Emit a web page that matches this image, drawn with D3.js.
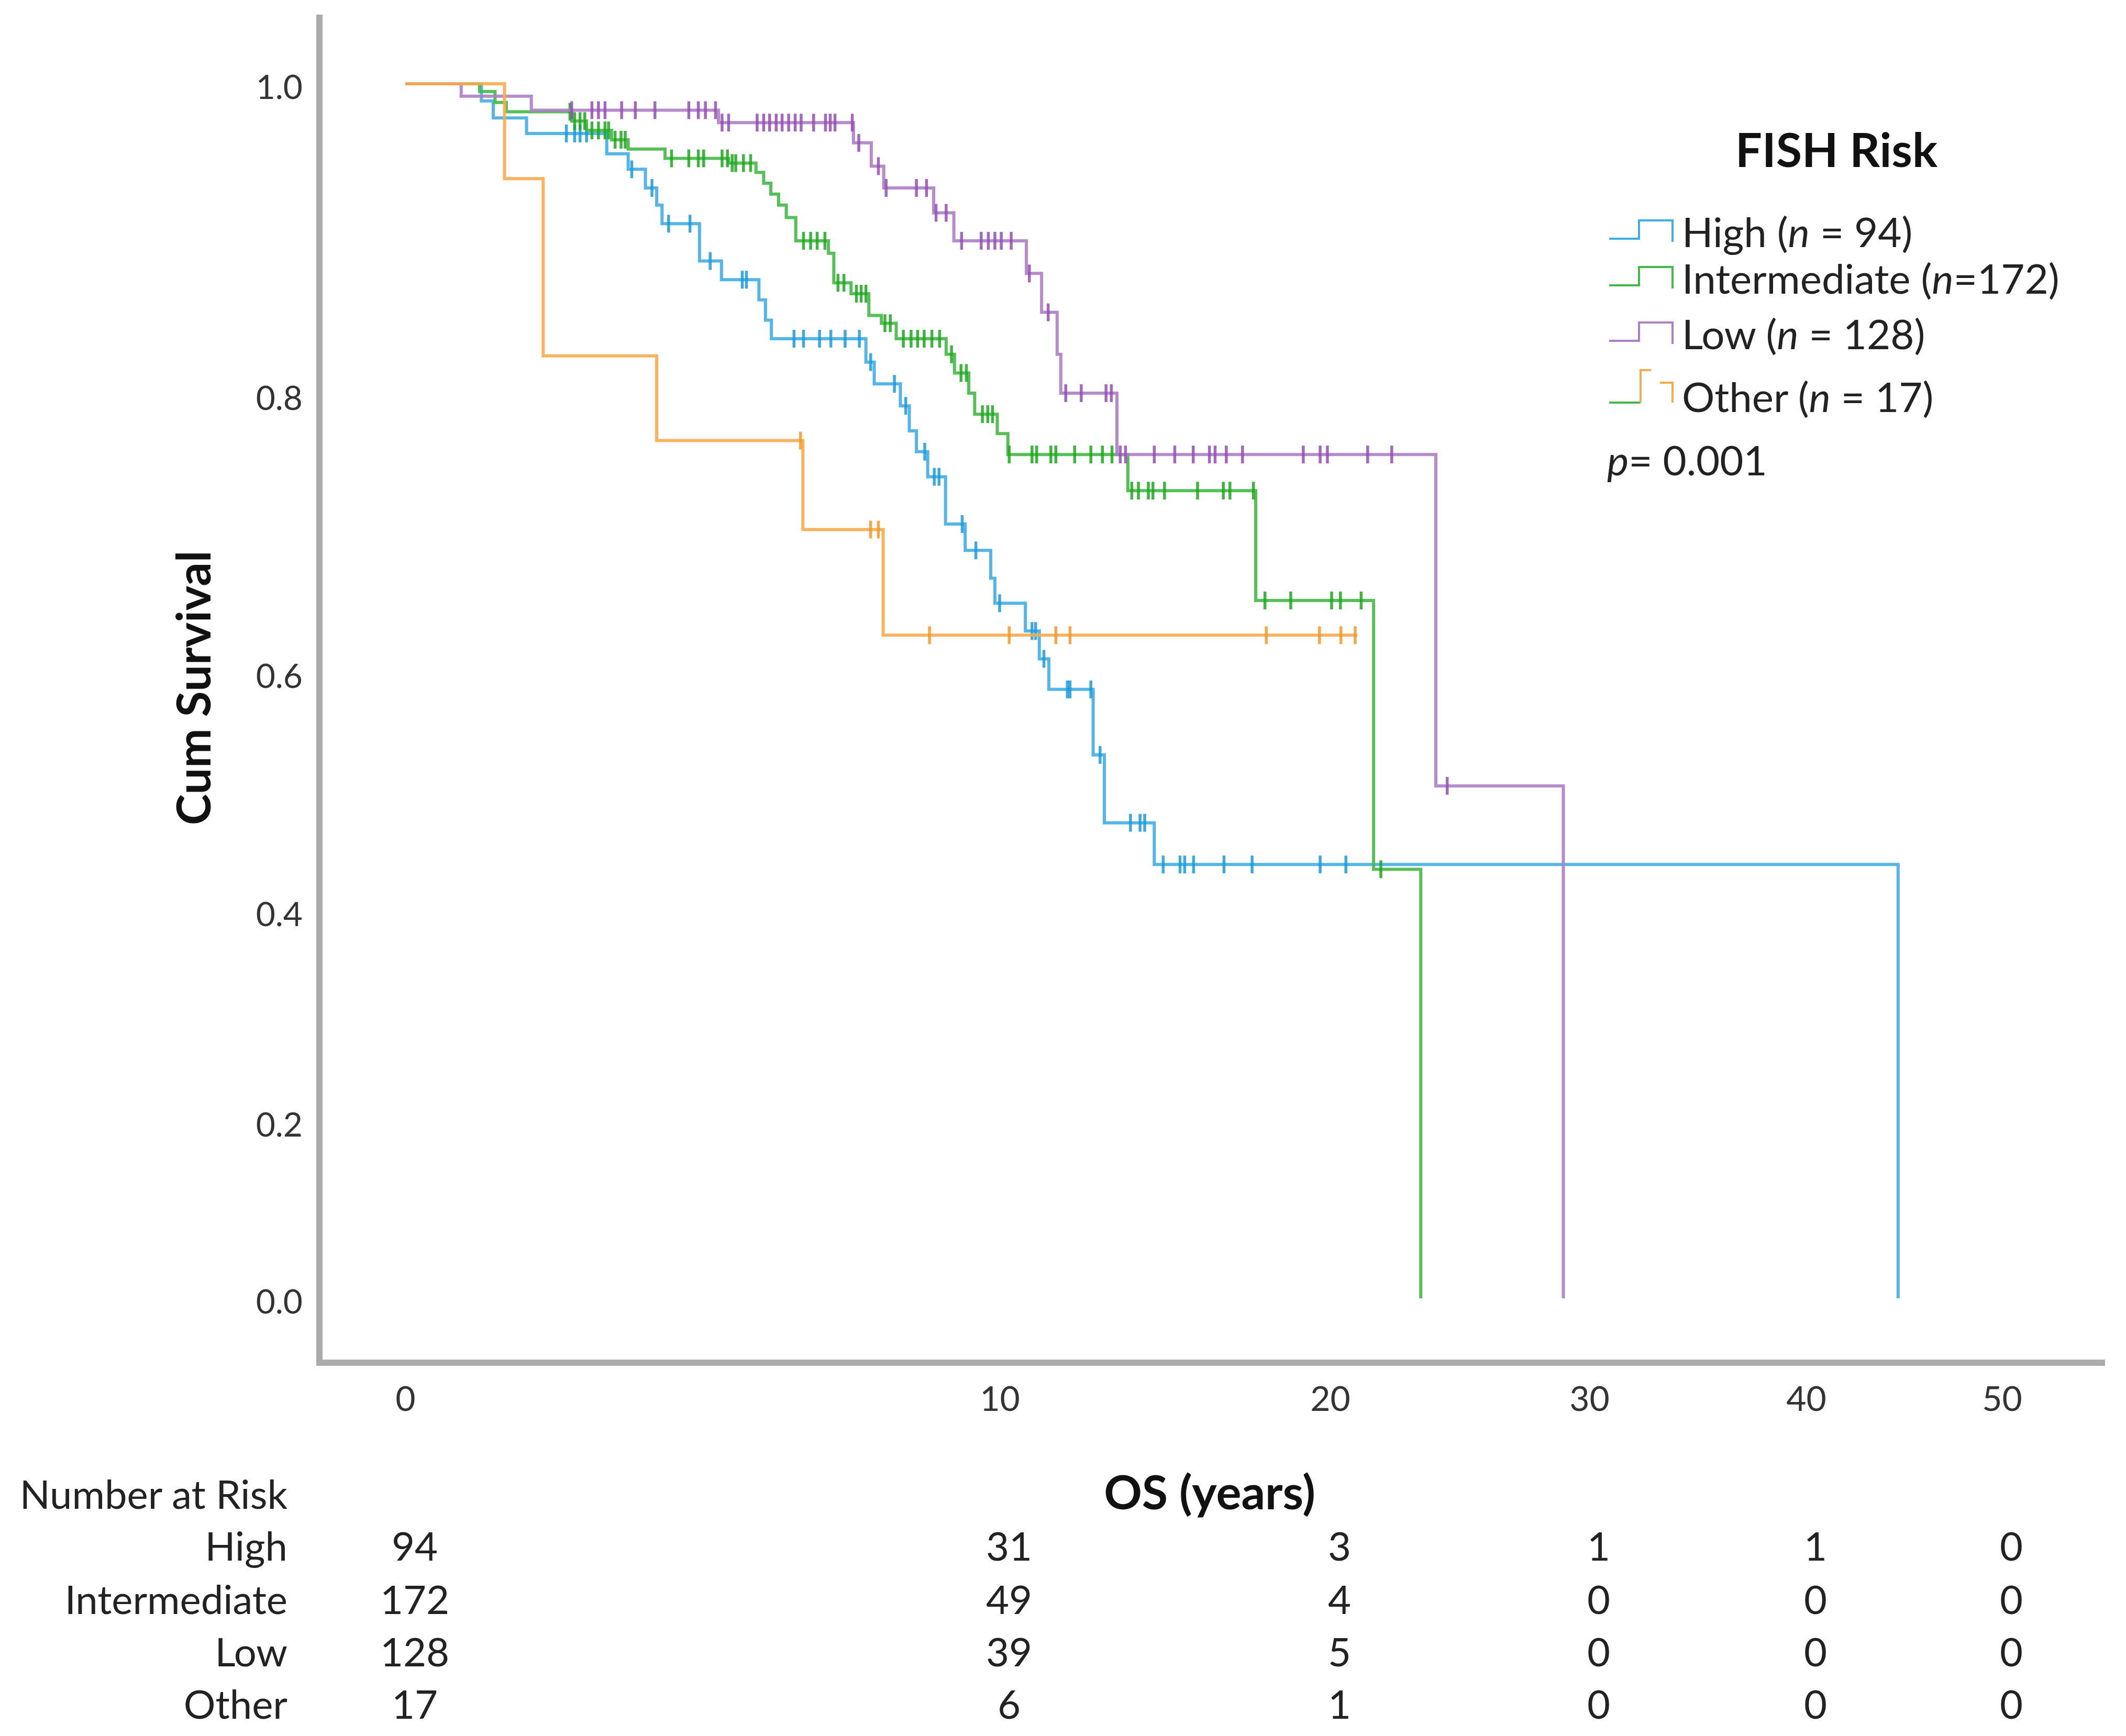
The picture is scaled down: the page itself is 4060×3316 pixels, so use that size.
<!DOCTYPE html>
<html>
<head>
<meta charset="utf-8">
<script src="https://cdn.jsdelivr.net/npm/d3@7"></script>
<style>
  body { margin: 0; background: #fff; }
  text { font-family: Lato, "Open Sans", sans-serif; }
</style>
</head>
<body>
<div id="chart"></div>
<script>
// ---- data ----
const groups = ["High", "Intermediate", "Low", "Other"];
const groupN = [94, 172, 128, 17];

// [time (years), survival after the step]
const highSteps = [[0, 1], [1.28, 0.989], [1.48, 0.978], [2.04, 0.968], [3.39, 0.955], [3.75, 0.945],
  [4.04, 0.933], [4.23, 0.922], [4.32, 0.910], [4.95, 0.886], [5.32, 0.874], [5.95, 0.861], [6.06, 0.848],
  [6.16, 0.836], [7.75, 0.821], [7.89, 0.807], [8.33, 0.792], [8.48, 0.774], [8.60, 0.759], [8.79, 0.741],
  [9.09, 0.707], [9.42, 0.688], [9.85, 0.668], [9.92, 0.650], [10.78, 0.630], [11.20, 0.610], [11.49, 0.586],
  [12.83, 0.531], [13.17, 0.474], [14.68, 0.439], [44.7, 0]];
const highCensored = [2.71, 2.85, 2.94, 3.05, 3.81, 4.15, 4.43, 4.79, 5.13, 5.67, 5.74, 6.54, 6.70, 6.97,
  7.16, 7.40, 7.64, 7.83, 8.23, 8.42, 8.74, 8.90, 8.98, 9.37, 9.60, 10.0, 10.98, 11.09, 11.34, 12.05, 12.13,
  12.76, 13.04, 13.96, 14.25, 14.39, 14.95, 15.46, 15.60, 15.87, 16.79, 17.64, 19.70, 20.61];

const intermediateSteps = [[0, 1], [1.25, 0.995], [1.51, 0.988], [1.70, 0.982], [2.80, 0.976], [3.05, 0.970],
  [3.47, 0.964], [3.75, 0.958], [4.37, 0.952], [5.44, 0.949], [5.90, 0.943], [6.03, 0.936], [6.15, 0.929],
  [6.28, 0.922], [6.41, 0.914], [6.57, 0.899], [7.12, 0.891], [7.21, 0.872], [7.50, 0.865], [7.80, 0.851],
  [8.01, 0.846], [8.26, 0.836], [9.10, 0.826], [9.24, 0.814], [9.48, 0.801], [9.58, 0.786], [9.96, 0.772],
  [10.25, 0.757], [13.88, 0.731], [17.75, 0.652], [21.68, 0.435], [23.5, 0]];
const intermediateCensored = [2.77, 2.85, 2.94, 3.02, 3.14, 3.25, 3.36, 3.42, 3.53, 3.63, 3.70, 4.48, 4.77,
  4.93, 5.02, 5.33, 5.42, 5.50, 5.56, 5.69, 5.81, 6.70, 6.82, 6.93, 7.06, 7.28, 7.38, 7.59, 7.67, 7.75, 8.07,
  8.16, 8.38, 8.51, 8.62, 8.73, 8.86, 8.99, 9.19, 9.35, 9.44, 9.71, 9.80, 9.88, 10.29, 10.98, 11.12, 11.55,
  11.70, 12.27, 12.76, 13.11, 13.40, 14.0, 14.2, 14.5, 14.64, 14.99, 15.99, 16.77, 16.97, 17.68, 18.03,
  18.81, 20.06, 20.4, 21.2, 21.96];

const lowSteps = [[0, 1], [0.94, 0.992], [2.12, 0.983], [5.27, 0.975], [7.54, 0.962], [7.84, 0.947],
  [8.05, 0.933], [8.89, 0.917], [9.23, 0.899], [10.81, 0.878], [11.27, 0.853], [11.74, 0.826], [11.85, 0.801],
  [13.55, 0.757], [24.08, 0.505], [29.0, 0]];
const lowCensored = [2.80, 3.14, 3.25, 3.36, 3.64, 3.87, 4.20, 4.77, 4.93, 5.05, 5.22, 5.33, 5.44, 5.92,
  6.03, 6.13, 6.24, 6.34, 6.45, 6.56, 6.66, 6.87, 7.07, 7.15, 7.23, 7.52, 7.63, 7.96, 8.09, 8.60, 8.77, 8.93,
  9.10, 9.36, 9.69, 9.81, 9.92, 10.05, 10.35, 10.9, 11.47, 12.0, 12.47, 13.22, 13.38, 13.65, 13.81, 14.68,
  15.3, 15.86, 16.35, 16.52, 16.86, 17.35, 19.19, 19.70, 19.92, 21.45, 22.38, 24.52];

const otherSteps = [[0, 1], [1.67, 0.939], [2.32, 0.825], [4.23, 0.767], [6.69, 0.703], [8.04, 0.627],
  [21.05, 0.627]];
const otherCensored = [6.65, 7.83, 7.96, 8.82, 10.29, 11.70, 12.13, 18.07, 19.68, 20.42, 20.97];

const xTicks = [0, 10, 20, 30, 40, 50];
const yTicks = [0, 0.2, 0.4, 0.6, 0.8, 1.0];

const riskTimes = [0, 10, 20, 30, 40, 50];
const riskHigh = [94, 31, 3, 1, 1, 0];
const riskIntermediate = [172, 49, 4, 0, 0, 0];
const riskLow = [128, 39, 5, 0, 0, 0];
const riskOther = [17, 6, 1, 0, 0, 0];

const pValue = "0.001";

// ---- drawing ----
const width = 4060, height = 3316;

const lineColors = ["#41ade3", "#45b845", "#ad7ec6", "#f6ab4e"];
const markColors = ["#1c9bd9", "#1fa81f", "#9550b4", "#f39a2a"];

const series = [
  { steps: highSteps, censored: highCensored, risk: riskHigh },
  { steps: intermediateSteps, censored: intermediateCensored, risk: riskIntermediate },
  { steps: lowSteps, censored: lowCensored, risk: riskLow },
  { steps: otherSteps, censored: otherCensored, risk: riskOther }
];

const svg = d3.select("#chart").append("svg")
  .attr("width", width)
  .attr("height", height)
  .style("display", "block");

svg.append("rect").attr("width", width).attr("height", height).attr("fill", "#fff");

// the figure's axes are unevenly spaced, so both scales are piecewise
const x = d3.scaleLinear().domain(xTicks).range([774, 1909, 2540, 3035, 3449, 3823]);
const y = d3.scaleLinear().domain(yTicks).range([2480, 2142, 1740, 1285, 754, 160]);

const axisX = 610, axisY = 2603;

// axis lines
svg.append("line")
  .attr("x1", axisX).attr("x2", axisX)
  .attr("y1", 28).attr("y2", axisY + 6)
  .attr("stroke", "#ababab").attr("stroke-width", 12);
svg.append("line")
  .attr("x1", axisX - 6).attr("x2", 4020)
  .attr("y1", axisY).attr("y2", axisY)
  .attr("stroke", "#ababab").attr("stroke-width", 12);

// y ticks
const gy = svg.append("g")
  .attr("transform", "translate(" + axisX + ",0)")
  .call(d3.axisLeft(y).tickValues(yTicks).tickSize(0).tickPadding(32).tickFormat(d3.format(".1f")));
gy.select(".domain").remove();
gy.selectAll("text")
  .attr("dy", "0.35em")
  .attr("transform", "translate(0,6)")
  .style("font-family", "Lato, sans-serif")
  .style("font-size", "64px")
  .attr("fill", "#333");

// x ticks
const gx = svg.append("g")
  .attr("transform", "translate(0," + axisY + ")")
  .call(d3.axisBottom(x).tickValues(xTicks).tickSize(0));
gx.select(".domain").remove();
gx.selectAll("text")
  .attr("y", 69)
  .attr("dy", "0.35em")
  .style("font-family", "Lato, sans-serif")
  .style("font-size", "66px")
  .attr("fill", "#333");

// axis titles
svg.append("text")
  .attr("transform", "translate(367,1314) rotate(-90)")
  .attr("text-anchor", "middle")
  .attr("dominant-baseline", "central")
  .style("font-size", "90px")
  .style("font-weight", "700")
  .attr("fill", "#111")
  .text("Cum Survival");

svg.append("text")
  .attr("x", 2310).attr("y", 2848)
  .attr("text-anchor", "middle")
  .attr("dominant-baseline", "central")
  .style("font-size", "90px")
  .style("font-weight", "700")
  .attr("fill", "#111")
  .text("OS (years)");

// survival curves
const line = d3.line()
  .x((d) => x(d[0]))
  .y((d) => y(d[1]))
  .curve(d3.curveStepAfter);

function survivalAt(steps, t) {
  let s = 1;
  steps.forEach((d) => { if (d[0] <= t) s = d[1]; });
  return s;
}

const curves = svg.append("g");
series.forEach((s, i) => {
  const g = curves.append("g");
  g.append("path")
    .attr("d", line(s.steps))
    .attr("fill", "none")
    .attr("stroke", lineColors[i])
    .attr("stroke-width", 6)
    .attr("opacity", 0.9);

  g.selectAll("line.cens")
    .data(s.censored)
    .enter()
    .append("line")
    .attr("class", "cens")
    .attr("x1", (t) => x(t))
    .attr("x2", (t) => x(t))
    .attr("y1", (t) => y(survivalAt(s.steps, t)) - 17)
    .attr("y2", (t) => y(survivalAt(s.steps, t)) + 17)
    .attr("stroke", markColors[i])
    .attr("stroke-width", 5.5)
    .attr("opacity", 0.85);
});

// legend
svg.append("text")
  .attr("x", 3507).attr("y", 284)
  .attr("text-anchor", "middle")
  .attr("dominant-baseline", "central")
  .style("font-size", "90px")
  .style("font-weight", "700")
  .attr("fill", "#111")
  .text("FISH Risk");

const legendRows = [442, 531, 637, 757];
const legendEq = [" = ", "=", " = ", " = "];

groups.forEach((name, i) => {
  const cy = legendRows[i];
  const row = svg.append("g").attr("transform", "translate(3073," + cy + ")");
  if (name === "Other") {
    row.append("path")
      .attr("d", "M0,12 H60")
      .attr("fill", "none").attr("stroke", lineColors[1]).attr("stroke-width", 4);
    row.append("path")
      .attr("d", "M60,12 V-50 H80")
      .attr("fill", "none").attr("stroke", lineColors[3]).attr("stroke-width", 4);
    row.append("path")
      .attr("d", "M97,-26 H121 V12")
      .attr("fill", "none").attr("stroke", lineColors[3]).attr("stroke-width", 4);
  } else {
    row.append("path")
      .attr("d", "M0,14 H57 V-21 H121 V20")
      .attr("fill", "none").attr("stroke", lineColors[i]).attr("stroke-width", 4);
  }
  const t = row.append("text")
    .attr("x", 139).attr("y", 0)
    .attr("dominant-baseline", "central")
    .style("font-size", "78px")
    .attr("fill", "#222");
  t.append("tspan").text(name + " (");
  t.append("tspan").style("font-style", "italic").text("n");
  t.append("tspan").text(legendEq[i] + groupN[i] + ")");
});

const pt = svg.append("text")
  .attr("x", 3069).attr("y", 878)
  .attr("dominant-baseline", "central")
  .style("font-size", "78px")
  .attr("fill", "#222");
pt.append("tspan").style("font-style", "italic").text("p");
pt.append("tspan").text("= " + pValue);

// number at risk table
const riskRows = [2951, 3053, 3153, 3253];
svg.append("text")
  .attr("x", 549).attr("y", 2852)
  .attr("text-anchor", "end")
  .attr("dominant-baseline", "central")
  .style("font-size", "76px")
  .attr("fill", "#222")
  .text("Number at Risk");

series.forEach((s, i) => {
  svg.append("text")
    .attr("x", 549).attr("y", riskRows[i])
    .attr("text-anchor", "end")
    .attr("dominant-baseline", "central")
    .style("font-size", "76px")
    .attr("fill", "#222")
    .text(groups[i]);

  svg.selectAll(null)
    .data(riskTimes)
    .enter()
    .append("text")
    .attr("x", (t) => x(t) + 18)
    .attr("y", riskRows[i])
    .attr("text-anchor", "middle")
    .attr("dominant-baseline", "central")
    .style("font-size", "76px")
    .attr("fill", "#222")
    .text((t, j) => s.risk[j]);
});
</script>
</body>
</html>
